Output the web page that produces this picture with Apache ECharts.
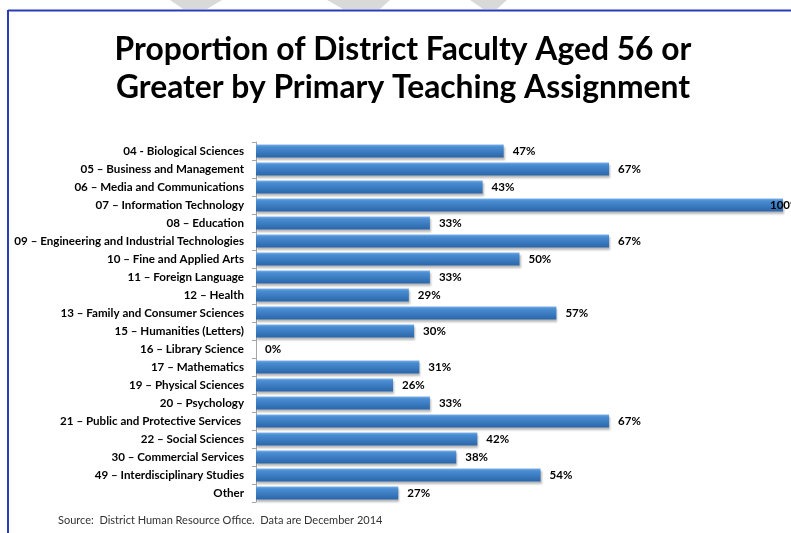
<!DOCTYPE html>
<html>
<head>
<meta charset="utf-8">
<script src="https://cdn.jsdelivr.net/npm/echarts@6/dist/echarts.min.js"></script>
<style>
  html, body { margin: 0; padding: 0; background: #fff; }
  #chart { width: 791px; height: 533px; }
</style>
</head>
<body>
<div id="chart"></div>
<script>
// Teaching assignments, top to bottom
const categories = [
  '04 - Biological Sciences',
  '05 \u2013 Business and Management',
  '06 \u2013 Media and Communications',
  '07 \u2013 Information Technology',
  '08 \u2013 Education',
  '09 \u2013 Engineering and Industrial Technologies',
  '10 \u2013 Fine and Applied Arts',
  '11 \u2013 Foreign Language',
  '12 \u2013 Health',
  '13 \u2013 Family and Consumer Sciences',
  '15 \u2013 Humanities (Letters)',
  '16 \u2013 Library Science',
  '17 \u2013 Mathematics',
  '19 \u2013 Physical Sciences',
  '20 \u2013 Psychology',
  '21 \u2013 Public and Protective Services ',
  '22 \u2013 Social Sciences',
  '30 \u2013 Commercial Services',
  '49 \u2013 Interdisciplinary Studies',
  'Other'
];
// Share of faculty aged 56 or older, in percent
const shareAged56Plus = [47, 67, 43, 100, 33, 67, 50, 33, 29, 57, 30, 0, 31, 26, 33, 67, 42, 38, 54, 27];

const titleLines = ['Proportion of District Faculty Aged 56 or', 'Greater by Primary Teaching Assignment'];
const sourceNote = 'Source:  District Human Resource Office.  Data are December 2014';

const FONT = 'Lato, "Open Sans", sans-serif';

// A full-length bar has no room for its label past the end, so pull it back over the bar
const barData = shareAged56Plus.map(v => v >= 100
  ? { value: v, label: { offset: [-22, 0] } }
  : v);

const chart = echarts.init(document.getElementById('chart'), null, { renderer: 'canvas' });

chart.setOption({
  backgroundColor: '#ffffff',
  animation: false,
  grid: { left: 256, right: 8, top: 142, bottom: 31, containLabel: false },
  xAxis: {
    type: 'value',
    min: 0,
    max: 100,
    show: false
  },
  yAxis: {
    type: 'category',
    data: categories,
    inverse: true,
    axisLine: { show: true, lineStyle: { color: '#a6a6a6', width: 1 } },
    axisTick: { show: true, length: 4, lineStyle: { color: '#a6a6a6' } },
    axisLabel: {
      margin: 12,
      fontFamily: FONT,
      fontSize: 11.6,
      fontWeight: 'bold',
      color: '#000'
    }
  },
  series: [{
    type: 'bar',
    data: barData,
    barWidth: 13,
    itemStyle: {
      color: new echarts.graphic.LinearGradient(0, 0, 0, 1, [
        { offset: 0, color: '#79b0e6' },
        { offset: 0.18, color: '#4a8dd3' },
        { offset: 1, color: '#2b66a9' }
      ]),
      shadowColor: 'rgba(0,0,0,0.28)',
      shadowBlur: 2,
      shadowOffsetY: 2,
      shadowOffsetX: 1
    },
    label: {
      show: true,
      position: 'right',
      distance: 9,
      fontFamily: FONT,
      fontSize: 11.5,
      fontWeight: 'bold',
      color: '#000',
      formatter: p => p.value + '%'
    }
  }],
  graphic: [
    // watermark tips peeking above the frame
    { type: 'polygon', shape: { points: [[170, 0], [222, 0], [207, 9], [183, 9]] }, style: { fill: '#d9d9d9' } },
    { type: 'polygon', shape: { points: [[327, 0], [390, 0], [380, 9], [343, 9]] }, style: { fill: '#d9d9d9' } },
    { type: 'polygon', shape: { points: [[470, 0], [507, 0], [497, 9], [483, 9]] }, style: { fill: '#d9d9d9' } },
    // page frame
    { type: 'line', shape: { x1: 8, y1: 10.5, x2: 791, y2: 10.5 }, style: { stroke: '#2a3cb8', lineWidth: 2 } },
    { type: 'line', shape: { x1: 8, y1: 10, x2: 8, y2: 533 }, style: { stroke: '#2a3cb8', lineWidth: 2 } },
    // two-line centred heading
    {
      type: 'text',
      x: 403,
      y: 31,
      style: {
        text: titleLines.join('\n'),
        align: 'center',
        verticalAlign: 'top',
        fontFamily: FONT,
        fontSize: 31.8,
        fontWeight: 'bold',
        lineHeight: 38,
        fill: '#000'
      }
    },
    {
      type: 'text',
      left: 58,
      top: 515,
      style: {
        text: sourceNote,
        fontFamily: FONT,
        fontSize: 11,
        fill: '#333'
      }
    }
  ]
});
</script>
</body>
</html>
